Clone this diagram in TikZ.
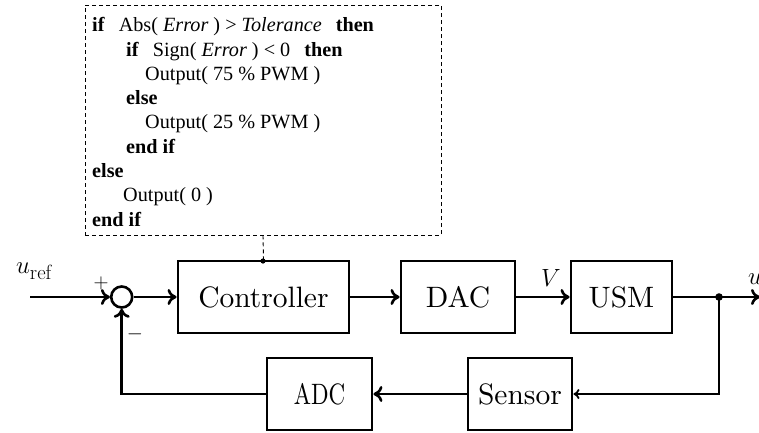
\documentclass[tikz,border=0pt]{standalone}
\usepackage{fontspec}
\usetikzlibrary{arrows.meta}
\newfontfamily\codefont{Liberation Serif}
\font\blk=cmr10 at 29.5pt
\begin{document}
\begin{tikzpicture}[x=1pt,y=-1pt,
  blockbox/.style={draw,line width=2.9pt,inner sep=0pt,font=\blk},
  sig/.style={line width=2.9pt},
  arr/.style={sig,-{To[length=9pt,width=16pt,line width=2.6pt]}},
  smallarr/.style={sig,-{To[length=6pt,width=10pt,line width=1.8pt]}},
  codeline/.style={anchor=base west,inner sep=0pt,font=\codefont\fontsize{20.2}{23}\selectfont},
  mathlbl/.style={inner sep=0pt,font=\fontsize{29.5}{32}\selectfont},
  signlbl/.style={inner sep=0pt,font=\fontsize{21}{22}\selectfont},
  dashbox/.style={draw,line width=0.9pt,dash pattern=on 4pt off 3pt}]
\useasboundingbox (0,0) rectangle (759,432);

% code box
\node[dashbox,minimum width=356pt,minimum height=230pt,inner sep=0pt] (code) at (263,120) {};
\node[codeline] (l1) at (92,31.7) {\textbf{if}\hspace{9pt} Abs( \textit{Error} ) > \textit{Tolerance}\hspace{9pt} \textbf{then}};
\node[codeline] (l2) at (126,56) {\textbf{if}\hspace{9pt} Sign( \textit{Error} ) < 0\hspace{9pt} \textbf{then}};
\node[codeline] (l3) at (145,80.3) {Output( 75 \% PWM )};
\node[codeline] (l4) at (126,104.6) {\textbf{else}};
\node[codeline] (l5) at (145,128.9) {Output( 25 \% PWM )};
\node[codeline] (l6) at (126,153.2) {\textbf{end if}};
\node[codeline] (l7) at (92,177.5) {\textbf{else}};
\node[codeline] (l8) at (123,201.8) {Output( 0 )};
\node[codeline] (l9) at (92,226.1) {\textbf{end if}};

% blocks
\node[blockbox,minimum width=171pt,minimum height=72pt] (ctrl) at (263.5,297) {Controller};
\node[blockbox,minimum width=114pt,minimum height=72pt] (dac) at (458,297) {DAC};
\node[blockbox,minimum width=101pt,minimum height=72pt] (usm) at (621.5,297) {USM};
\node[blockbox,minimum width=104pt,minimum height=72pt] (sensor) at (520,394) {Sensor};
\node[blockbox,minimum width=105pt,minimum height=72pt] (adc) at (319.5,394) {\scalebox{0.78}[1]{ADC}};

% summing junction
\node[draw,circle,line width=2.6pt,minimum size=21pt,inner sep=0pt] (sum) at (121.7,297) {};
\coordinate (in) at (30,297);
\coordinate (out) at (760,297);
\fill (719,297) circle (3.8pt) coordinate (br);
\fill (263,261) circle (2.6pt) coordinate (ctop);

% labels
\node[mathlbl] (uref) at (34,271) {$u_{\mathrm{ref}}$};
\node[mathlbl] (vlbl) at (551,278) {$V$};
\node[mathlbl] (ulbl) at (755,279) {$u$};
\node[signlbl] (plus) at (101,283) {$+$};
\node[signlbl] (minus) at (135,334) {$-$};

% connectors
\draw[dashbox] (code.south) -- (ctrl.north);
\draw[arr] (in) -- (sum.west);
\draw[arr] (sum.east) -- (ctrl.west);
\draw[arr] (ctrl.east) -- (dac.west);
\draw[arr] (dac.east) -- (usm.west);
\draw[sig] (usm.east) -- (br);
\draw[arr] (br) -- (out);
\draw[smallarr] (br) |- (sensor.east);
\draw[arr] (sensor.west) -- (adc.east);
\draw[arr] (adc.west) -| (sum.south);
\end{tikzpicture}
\end{document}
